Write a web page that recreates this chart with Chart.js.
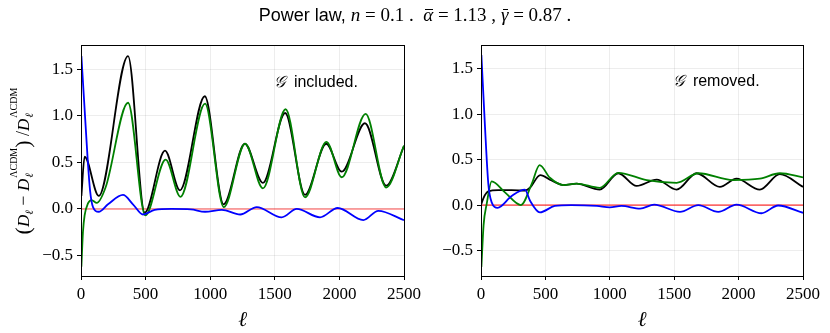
<!DOCTYPE html>
<html>
<head>
<meta charset="utf-8">
<script src="https://cdn.jsdelivr.net/npm/chart.js@4"></script>
<style>
  body { margin: 0; background: #fff; }
  #wrap { position: relative; width: 830px; height: 333px; overflow: hidden; }
  #titulo { position: absolute; top: 4px; left: 0; width: 830px; text-align: center;
            font-family: 'Liberation Sans', sans-serif; font-size: 18px; color: #000; }
  #titulo .m { font-family: 'Liberation Serif', serif; font-size: 19px; }
  #titulo .barra { position: relative; display: inline-block; }
  #titulo .barra::before { content: ''; position: absolute; left: 2px; right: 0px; top: 5px; border-top: 1px solid #000; }
  .nota { position: absolute; font-family: 'Liberation Sans', sans-serif; font-size: 16px; color: #000; }
  .nota .g { font-family: 'DejaVu Serif', serif; font-style: italic; }
  #c1 { position: absolute; left: 0; top: 0; }
  #c2 { position: absolute; left: 420px; top: 0; }
</style>
</head>
<body>
<div id="wrap">
  <canvas id="c1" width="440" height="333"></canvas>
  <canvas id="c2" width="410" height="333"></canvas>
  <div id="titulo">Power law, <span class="m"><i>n</i> = 0.1 .&nbsp; <i class="barra">α</i> = 1.13 , <i class="barra">γ</i> = 0.87 .</span></div>
  <div class="nota" style="left:274px; top:72px;"><span class="g">𝒢</span>&nbsp; included.</div>
  <div class="nota" style="left:673px; top:71px;"><span class="g">𝒢</span>&nbsp; removed.</div>
</div>
<script>
// ---- painel esquerdo: G incluido ----
const ellPretoInc = [3, 28, 137, 364, 493, 650, 766, 958, 1104, 1268, 1408, 1580, 1734, 1898, 2018, 2198, 2362, 2500];
const valPretoInc = [0.14, 0.56, 0.14, 1.64, -0.04, 0.625, 0.20, 1.21, 0.05, 0.70, 0.28, 1.03, 0.15, 0.70, 0.40, 0.92, 0.25, 0.675];

const ellVerdeInc = [3, 15, 28, 54, 82, 122, 190, 364, 498, 655, 770, 960, 1105, 1270, 1408, 1584, 1734, 1900, 2018, 2203, 2362, 2500];
const valVerdeInc = [-0.62, -0.25, -0.07, 0.06, 0.095, 0.065, 0.23, 1.14, -0.07, 0.53, 0.13, 1.13, 0.02, 0.70, 0.22, 1.07, 0.125, 0.72, 0.34, 1.02, 0.23, 0.68];

const ellAzulInc = [3, 25, 50, 70, 93, 137, 209, 325, 402, 480, 570, 700, 850, 960, 1090, 1232, 1360, 1553, 1670, 1850, 1987, 2185, 2301, 2500];
const valAzulInc = [1.64, 1.14, 0.57, 0.2, 0.02, -0.03, 0.05, 0.15, 0.05, -0.06, -0.01, 0.0, -0.005, -0.03, -0.01, -0.06, 0.02, -0.09, 0.0, -0.09, 0.01, -0.12, -0.02, -0.12];

// ---- painel direito: G removido ----
const ellPretoRem = [0, 20, 57, 134, 238, 341, 380, 460, 548, 640, 742, 922, 1066, 1208, 1364, 1519, 1674, 1855, 1984, 2165, 2320, 2500];
const valPretoRem = [0.0, 0.08, 0.15, 0.165, 0.165, 0.16, 0.19, 0.33, 0.27, 0.22, 0.235, 0.17, 0.35, 0.21, 0.28, 0.17, 0.35, 0.20, 0.29, 0.17, 0.34, 0.20];

const ellVerdeRem = [3, 20, 44, 83, 186, 310, 393, 455, 535, 640, 742, 922, 1066, 1286, 1519, 1687, 1958, 2165, 2320, 2500];
const valVerdeRem = [-0.68, -0.22, 0.01, 0.26, 0.14, 0.0, 0.23, 0.44, 0.30, 0.22, 0.235, 0.19, 0.355, 0.275, 0.245, 0.35, 0.275, 0.29, 0.35, 0.305];

const ellAzulRem = [3, 31, 57, 83, 129, 238, 341, 380, 457, 573, 700, 900, 1000, 1090, 1235, 1345, 1545, 1687, 1842, 1984, 2178, 2307, 2500];
const valAzulRem = [1.65, 0.86, 0.23, 0.03, -0.03, 0.10, 0.17, 0.05, -0.08, -0.01, 0.0, -0.01, -0.025, -0.01, -0.04, 0.005, -0.075, 0.0, -0.075, 0.005, -0.09, -0.005, -0.085];

const ticksX = [0, 500, 1000, 1500, 2000, 2500];
const ticksY = [-0.5, 0.0, 0.5, 1.0, 1.5];

const fonteTick = { family: 'Liberation Serif', size: 17 };

function pontos(xs, ys) {
    return xs.map((x, i) => ({ x: x, y: ys[i] }));
}

function serie(xs, ys, cor) {
    return {
        data: pontos(xs, ys),
        borderColor: cor,
        borderWidth: 1.8,
        pointRadius: 0,
        fill: false,
        cubicInterpolationMode: 'monotone'
    };
}

const moldura = {
    id: 'moldura',
    afterDraw(chart) {
        const a = chart.chartArea;
        const ctx = chart.ctx;
        ctx.save();
        ctx.strokeStyle = '#000';
        ctx.lineWidth = 1;
        ctx.strokeRect(Math.round(a.left) + 0.5, Math.round(a.top) + 0.5,
                       Math.round(a.right - a.left), Math.round(a.bottom - a.top));
        ctx.restore();
    }
};

// rotulo do eixo y com sub e sobrescritos
const rotuloY = {
    id: 'rotuloY',
    afterDraw(chart) {
        const ctx = chart.ctx;
        const grande = "18px 'Liberation Serif'";
        const it = "italic 17px 'Liberation Serif'";
        const pequeno = "italic 11px 'Liberation Serif'";
        const sup = "10px 'Liberation Serif'";
        const partes = [
            { t: '(', f: "22px 'Liberation Serif'", dy: 1 },
            { t: 'D', f: it, dy: 0 },
            { t: 'ℓ', f: pequeno, dy: 4 },
            { t: ' − ', f: grande, dy: 0 },
            { t: 'D', f: it, dy: 0 },
            { pilha: true },
            { t: ')', f: "22px 'Liberation Serif'", dy: 1 },
            { t: ' /', f: grande, dy: 0 },
            { t: 'D', f: it, dy: 0 },
            { pilha: true }
        ];
        ctx.save();
        let total = 0;
        const larg = partes.map(p => {
            if (p.pilha) {
                ctx.font = sup; const w1 = ctx.measureText('ΛCDM').width;
                ctx.font = pequeno; const w2 = ctx.measureText('ℓ').width;
                return Math.max(w1, w2) + 1;
            }
            ctx.font = p.f;
            return ctx.measureText(p.t).width;
        });
        larg.forEach(w => total += w);
        ctx.translate(24, 161);
        ctx.rotate(-Math.PI / 2);
        ctx.fillStyle = '#000';
        ctx.textBaseline = 'alphabetic';
        let x = -total / 2;
        partes.forEach((p, i) => {
            if (p.pilha) {
                ctx.font = pequeno; ctx.fillText('ℓ', x + 1, 9);
                ctx.font = sup; ctx.fillText('ΛCDM', x + 1, -7);
            } else {
                ctx.font = p.f;
                ctx.fillText(p.t, x, 5 + p.dy);
            }
            x += larg[i];
        });
        ctx.restore();
    }
};

function opcoes(larguraY, padDir, yMin, yMax) {
    return {
        responsive: false,
        animation: false,
        layout: { padding: { top: 45, right: padDir, left: 0, bottom: 0 } },
        plugins: { legend: { display: false }, tooltip: { enabled: false } },
        scales: {
            x: {
                type: 'linear', min: 0, max: 2500,
                afterBuildTicks: s => { s.ticks = ticksX.map(v => ({ value: v })); },
                afterFit: s => { s.height = 57; },
                ticks: { color: '#000', font: fonteTick, padding: 4, maxRotation: 0,
                         callback: v => String(v) },
                grid: { color: 'rgba(0,0,0,0.07)', tickColor: '#000', tickLength: 4 },
                border: { display: false },
                title: { display: true, text: 'ℓ', color: '#000',
                         font: { family: 'Liberation Serif', size: 21, style: 'italic' }, padding: { top: 0, bottom: 0 } }
            },
            y: {
                type: 'linear', min: yMin, max: yMax,
                afterBuildTicks: s => { s.ticks = ticksY.map(v => ({ value: v })); },
                afterFit: s => { s.width = larguraY; },
                ticks: { color: '#000', font: fonteTick, padding: 4,
                         callback: v => (v < 0 ? '−' : '') + Math.abs(v).toFixed(1) },
                grid: { color: 'rgba(0,0,0,0.07)', tickColor: '#000', tickLength: 4 },
                border: { display: false }
            }
        }
    };
}

new Chart(document.getElementById('c1'), {
    type: 'line',
    data: {
        datasets: [
            serie(ellAzulInc, valAzulInc, '#0000ff'),
            serie(ellVerdeInc, valVerdeInc, '#008000'),
            serie(ellPretoInc, valPretoInc, '#000000'),
            { data: pontos([0, 2500], [0, 0]), borderColor: 'rgba(255,0,0,0.35)', borderWidth: 2, pointRadius: 0 }
        ]
    },
    options: opcoes(81, 36, -0.72, 1.76),
    plugins: [moldura, rotuloY]
});

new Chart(document.getElementById('c2'), {
    type: 'line',
    data: {
        datasets: [
            serie(ellAzulRem, valAzulRem, '#0000ff'),
            serie(ellVerdeRem, valVerdeRem, '#008000'),
            serie(ellPretoRem, valPretoRem, '#000000'),
            { data: pontos([0, 2500], [0, 0]), borderColor: '#ff0000', borderWidth: 1, pointRadius: 0 }
        ]
    },
    options: opcoes(61, 27, -0.78, 1.76),
    plugins: [moldura]
});
</script>
</body>
</html>
